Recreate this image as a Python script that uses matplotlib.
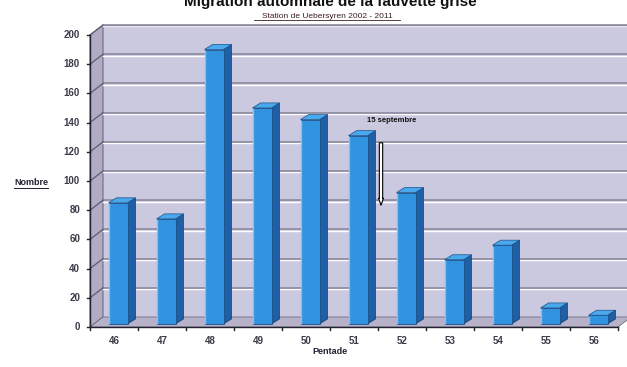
import matplotlib
matplotlib.use("Agg")
import matplotlib.pyplot as plt
from matplotlib.patches import Polygon, FancyArrowPatch
import numpy as np

# Data
pentades = [46, 47, 48, 49, 50, 51, 52, 53, 54, 55, 56]
counts = [83, 72, 188, 148, 140, 129, 90, 44, 54, 11, 6]
y_ticks = [0, 20, 40, 60, 80, 100, 120, 140, 160, 180, 200]

title = "Migration automnale de la fauvette grise"
subtitle = "Station de Uebersyren 2002 - 2011"
x_label = "Pentade"
y_label = "Nombre"
note = "15 septembre"

plt.rcParams['font.family'] = ['Liberation Sans', 'DejaVu Sans']

W, H = 627, 367
fig = plt.figure(figsize=(W / 100, H / 100), dpi=100)
fig.patch.set_facecolor("white")

# Front plane of the 3D box in pixel terms
left_px, right_px = 90, 618
bot_px, top_px = 327, 35
ax = fig.add_axes([left_px / W, (H - bot_px) / H,
                   (right_px - left_px) / W, (bot_px - top_px) / H])
xmin, xmax = 45.5, 56.5
ax.set_xlim(xmin, xmax)
ax.set_ylim(0, 200)
ax.axis("off")

pxx = (right_px - left_px) / (xmax - xmin)   # pixels per category
pxy = (bot_px - top_px) / 200.0              # pixels per unit

# depth offsets (data units)
DX, DY = 13 / pxx, 10 / pxy          # wall depth
SX, SY = 4 / pxx, 3 / pxy            # bar placement inside the box
BX, BY = 8 / pxx, 5 / pxy            # bar depth
BW = 19 / pxx                        # bar width

wall_col = "#cbc9df"
side_col = "#b1abc3"
floor_col = "#b8b2c8"
grid_col = "#858398"

def poly(pts, fc, ec="none", lw=0.0, z=1):
    ax.add_patch(Polygon(pts, closed=True, facecolor=fc, edgecolor=ec,
                         linewidth=lw, zorder=z, clip_on=False))

# back wall, left wall, floor
poly([(xmin + DX, DY), (xmax + DX + 1, DY), (xmax + DX + 1, 200 + DY),
      (xmin + DX, 200 + DY)], wall_col, z=0)
poly([(xmin, 0), (xmin + DX, DY), (xmin + DX, 200 + DY), (xmin, 200)],
     side_col, ec="#6e6c80", lw=0.8, z=0.5)
poly([(xmin, 0), (xmax, 0), (xmax + DX, DY), (xmin + DX, DY)],
     floor_col, ec="#6e6c80", lw=0.6, z=0.5)

# gridlines on back and side walls
for v in y_ticks[1:]:
    ax.plot([xmin + DX, xmax + DX + 1], [v + DY - 0.9, v + DY - 0.9],
            color="white", lw=1.0, zorder=0.6, clip_on=False)
    ax.plot([xmin + DX, xmax + DX + 1], [v + DY, v + DY],
            color=grid_col, lw=1.1, zorder=0.7, clip_on=False)
    ax.plot([xmin, xmin + DX], [v, v + DY], color="#5e5c70", lw=0.9,
            zorder=0.7, clip_on=False)
ax.plot([xmin + DX, xmax + DX + 1], [200 + DY, 200 + DY], color="#8a889c",
        lw=1.0, zorder=0.7, clip_on=False)

# bars with side and top faces
xs = np.array(pentades, dtype=float) + SX
front = ax.bar(xs, counts, width=BW, bottom=SY, color="#3192e0",
               edgecolor="#1b4f86", linewidth=0.6, zorder=3, clip_on=False)
for x, v in zip(xs, counts):
    xl, xr = x - BW / 2, x + BW / 2
    top = v + SY
    poly([(xr, SY), (xr, top), (xr + BX, top + BY), (xr + BX, SY + BY)],
         "#1e5fa6", ec="#143e6c", lw=0.5, z=2.9)
    poly([(xl, top), (xr, top), (xr + BX, top + BY), (xl + BX, top + BY)],
         "#4aa8ec", ec="#1b4f86", lw=0.5, z=3.1)
    ax.plot([xl + 0.02, xl + 0.02], [SY + 1, top - 1], color="#7cc4f4",
            lw=1.0, zorder=3.2, clip_on=False)

# axes lines and ticks
ax.plot([xmin, xmin], [0, 200], color="#222233", lw=1.0, zorder=4,
        clip_on=False)
ax.plot([xmin, xmax], [0, 0], color="#222233", lw=1.0, zorder=4,
        clip_on=False)
tick_dx = 3 / pxx
for v in y_ticks:
    ax.plot([xmin - tick_dx, xmin], [v, v], color="#222233", lw=1.0,
            zorder=4, clip_on=False)
    ax.text(xmin - 10 / pxx, v, str(v), ha="right", va="center",
            fontsize=7, fontweight="bold", color="#3a3a48")
for b in np.arange(xmin, xmax + 0.01, 1.0):
    ax.plot([b, b], [0, -3 / pxy], color="#222233", lw=1.0, zorder=4,
            clip_on=False)
for p in pentades:
    ax.text(p, -14 / pxy, str(p), ha="center", va="center", fontsize=7,
            fontweight="bold", color="#3a3a48")

# axis titles
fig.text(330 / W, 1 - 352 / H, x_label, ha="center", va="center",
         fontsize=6.5, fontweight="bold", color="#222233")
fig.text(31 / W, 1 - 183 / H, y_label, ha="center", va="center",
         fontsize=6.5, fontweight="bold", color="#222233")
fig.add_artist(plt.Line2D([14 / W, 48 / W], [1 - 188 / H, 1 - 188 / H],
                          color="#222233", lw=0.7))

# chart titles
fig.text(330 / W, 1 - 6 / H, title, ha="center", va="baseline",
         fontsize=11, fontweight="bold", color="#111111")
fig.text(327 / W, 1 - 16 / H, subtitle, ha="center", va="center",
         fontsize=6, color="#3a2020")
fig.add_artist(plt.Line2D([254 / W, 400 / W], [1 - 20 / H, 1 - 20 / H],
                          color="#3a2020", lw=0.6))

# annotation for mid-September
ax.text(45.5 + (392 - left_px) / pxx, (bot_px - 121) / pxy, note,
        ha="center", va="center", fontsize=5.5, fontweight="bold",
        color="#111111", zorder=6)
arrow_x = 45.5 + (381 - left_px) / pxx
arr = FancyArrowPatch((arrow_x, (bot_px - 140) / pxy),
                      (arrow_x, (bot_px - 208) / pxy),
                      arrowstyle="simple,head_width=3.5,head_length=5,tail_width=2.4",
                      facecolor="white", edgecolor="black", linewidth=0.8,
                      zorder=6, clip_on=False)
ax.add_patch(arr)

fig.savefig("out.png", dpi=100, facecolor="white")
